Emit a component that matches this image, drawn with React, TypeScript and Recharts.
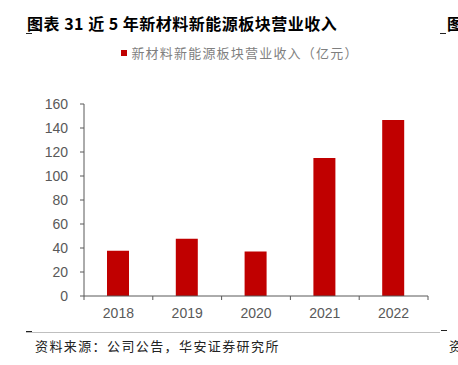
import React from "react";
import { BarChart, Bar, XAxis, YAxis, Legend } from "recharts";

const years = ["2018", "2019", "2020", "2021", "2022"];
const revenue = [37.8, 47.7, 37.1, 115, 146.6];
const yTicks = [0, 20, 40, 60, 80, 100, 120, 140, 160];
const seriesName = "新材料新能源板块营业收入（亿元）";
const title = "图表 31 近 5 年新材料新能源板块营业收入";
const source = "资料来源：公司公告，华安证券研究所";

const data = years.map((year, i) => ({ year, revenue: revenue[i] }));

const W = 458;
const H = 365;
const PLOT_LEFT = 84;
const PLOT_RIGHT = 428;
const PLOT_TOP = 85;
const PLOT_BOTTOM = 296;
const AXIS_COLOR = "#595959";
const LABEL_COLOR = "#595959";
const BAR_COLOR = "#C00000";
const latin = "'Liberation Sans', Arial, sans-serif";
const cjk = "'Noto Sans CJK SC', 'Liberation Sans', sans-serif";

const half = (PLOT_RIGHT - PLOT_LEFT) / years.length / 2;

function YearTick(props: any) {
  const { x, y, payload, index } = props;
  const last = index === years.length - 1;
  return (
    <g>
      <line x1={x - half} x2={x - half} y1={y} y2={y + 4} stroke={AXIS_COLOR} />
      {last && <line x1={x + half} x2={x + half} y1={y} y2={y + 4} stroke={AXIS_COLOR} />}
      <text x={x} y={y + 22} textAnchor="middle" fill={LABEL_COLOR} fontSize={14} fontFamily={latin}>
        {payload.value}
      </text>
    </g>
  );
}

function LegendBox() {
  return (
    <div style={{ display: "flex", alignItems: "center", justifyContent: "center", paddingLeft: 22 }}>
      <span style={{ width: 6, height: 6, background: BAR_COLOR, marginRight: 4 }} />
      <span style={{ fontSize: 13, letterSpacing: 1.2, color: "#7f7f7f", fontFamily: cjk }}>{seriesName}</span>
    </div>
  );
}

const dash = (left: number, top: number) => (
  <div style={{ position: "absolute", left, top, width: 6, height: 1, background: "#222" }} />
);

export default function App() {
  return (
    <div style={{ position: "fixed", left: 0, top: 0, width: W, height: H, overflow: "hidden", background: "#fff" }}>
      <div
        style={{
          position: "absolute", left: 27, top: 11, fontSize: 16, fontWeight: "bold",
          letterSpacing: 0.5, color: "#000", fontFamily: cjk, whiteSpace: "nowrap",
        }}
      >
        {title}
      </div>
      <div style={{ position: "absolute", left: 447, top: 11, fontSize: 16, fontWeight: "bold", fontFamily: cjk }}>图</div>
      {dash(26, 33)}
      {dash(440, 33)}

      <BarChart
        width={W}
        height={H}
        data={data}
        margin={{ top: PLOT_TOP, right: W - PLOT_RIGHT, bottom: H - PLOT_BOTTOM - 30, left: 0 }}
      >
        <Legend verticalAlign="top" content={<LegendBox />} wrapperStyle={{ top: 43, left: 0, width: W }} />
        <YAxis
          width={PLOT_LEFT}
          domain={[0, 160]}
          ticks={yTicks}
          interval={0}
          tickSize={4}
          tickMargin={12}
          axisLine={{ stroke: AXIS_COLOR }}
          tickLine={{ stroke: AXIS_COLOR }}
          tick={{ fill: LABEL_COLOR, fontSize: 14, fontFamily: latin }}
        />
        <XAxis
          dataKey="year"
          height={30}
          interval={0}
          tickSize={0}
          tickMargin={0}
          tickLine={false}
          axisLine={{ stroke: AXIS_COLOR }}
          tick={<YearTick />}
        />
        <Bar dataKey="revenue" name={seriesName} fill={BAR_COLOR} barSize={22} isAnimationActive={false} />
      </BarChart>

      <div style={{ position: "absolute", left: 26, top: 332, width: 414, height: 1, background: "#bfbfbf" }} />
      {dash(26, 331)}
      {dash(441, 330)}
      <div
        style={{
          position: "absolute", left: 35, top: 336, fontSize: 13, letterSpacing: 1.4,
          color: "#222", fontFamily: cjk, whiteSpace: "nowrap",
        }}
      >
        {source}
      </div>
      <div style={{ position: "absolute", left: 449, top: 336, fontSize: 13, color: "#222", fontFamily: cjk }}>资</div>
    </div>
  );
}
